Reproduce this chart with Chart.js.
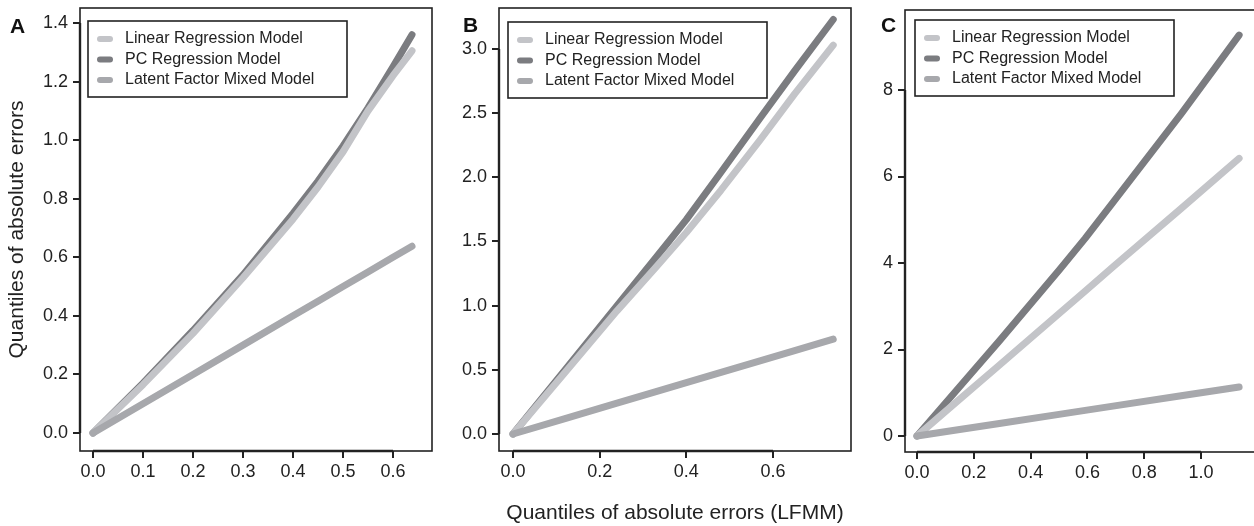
<!DOCTYPE html>
<html><head><meta charset="utf-8">
<script src="https://cdn.jsdelivr.net/npm/chart.js@4.4.1/dist/chart.umd.min.js"></script>
<style>
html,body{margin:0;padding:0;background:#fff;overflow:hidden;width:1254px;height:526px;}
canvas{position:absolute;top:0;}
</style></head><body>
<canvas id="cA" width="440" height="526" style="left:0px"></canvas>
<canvas id="cB" width="420" height="526" style="left:440px"></canvas>
<canvas id="cC" width="400" height="526" style="left:860px"></canvas>
<script>
// ---- data ----
const seriesNames = ['Linear Regression Model', 'PC Regression Model', 'Latent Factor Mixed Model'];

// Panel A
const qA   = [0, 0.1, 0.2, 0.3, 0.4, 0.45, 0.5, 0.55, 0.6, 0.638];
const linA = [0, 0.165, 0.34, 0.53, 0.73, 0.84, 0.96, 1.10, 1.22, 1.305];
const pcA  = [0, 0.17, 0.35, 0.54, 0.75, 0.86, 0.98, 1.11, 1.25, 1.36];
const lfA  = [0, 0.1, 0.2, 0.3, 0.4, 0.45, 0.5, 0.55, 0.6, 0.638];
const xTicksA = [0, 0.1, 0.2, 0.3, 0.4, 0.5, 0.6];
const yTicksA = [0, 0.2, 0.4, 0.6, 0.8, 1.0, 1.2, 1.4];

// Panel B
const qB   = [0, 0.12, 0.24, 0.33, 0.40, 0.48, 0.57, 0.65, 0.739];
const linB = [0, 0.48, 0.96, 1.30, 1.57, 1.90, 2.29, 2.65, 3.03];
const pcB  = [0, 0.50, 1.00, 1.375, 1.67, 2.04, 2.46, 2.83, 3.23];
const lfB  = [0, 0.12, 0.24, 0.33, 0.40, 0.48, 0.57, 0.65, 0.739];
const xTicksB = [0, 0.2, 0.4, 0.6];
const yTicksB = [0, 0.5, 1.0, 1.5, 2.0, 2.5, 3.0];

// Panel C
const qC   = [0, 0.15, 0.29, 0.5, 0.592, 0.69, 0.93, 1.134];
const linC = [0, 0.85, 1.64, 2.83, 3.35, 3.91, 5.26, 6.42];
const pcC  = [0, 1.14, 2.20, 3.83, 4.57, 5.40, 7.45, 9.27];
const lfC  = [0, 0.15, 0.29, 0.5, 0.592, 0.69, 0.93, 1.134];
const xTicksC = [0, 0.2, 0.4, 0.6, 0.8, 1.0];
const yTicksC = [0, 2, 4, 6, 8];

// ---- styling ----
const FONT = "'Liberation Sans', Arial, Helvetica, sans-serif";
Chart.defaults.font.family = FONT;
const colors = ['#c3c4c8', '#7b7c80', '#a7a8ac'];
const orders = [1, 2, 0];
const INK = '#222';

const framePlugin = {
  id: 'frame',
  afterDatasetsDraw(chart, args, opts) {
    const ctx = chart.ctx, a = chart.chartArea;
    const xs = chart.scales.x, ys = chart.scales.y;
    ctx.save();
    ctx.strokeStyle = INK;
    ctx.lineWidth = 1.6;
    ctx.strokeRect(a.left, a.top, a.right - a.left, a.bottom - a.top);
    ctx.lineWidth = 2.4;
    ctx.beginPath();
    ctx.moveTo(xs.getPixelForValue(opts.xt[0]), a.bottom);
    ctx.lineTo(xs.getPixelForValue(opts.xt[opts.xt.length - 1]), a.bottom);
    ctx.moveTo(a.left, ys.getPixelForValue(opts.yt[0]));
    ctx.lineTo(a.left, ys.getPixelForValue(opts.yt[opts.yt.length - 1]));
    ctx.stroke();
    // legend
    const lx = a.left + opts.lgx, ly = a.top + opts.lgy, lw = 259, lh = 76;
    ctx.fillStyle = '#fff';
    ctx.fillRect(lx, ly, lw, lh);
    ctx.lineWidth = 1.6;
    ctx.strokeStyle = INK;
    ctx.strokeRect(lx, ly, lw, lh);
    ctx.font = '16px ' + FONT;
    ctx.textBaseline = 'middle';
    ctx.textAlign = 'left';
    chart.data.datasets.forEach((d, i) => {
      const cy = ly + 18 + i * 20.5;
      ctx.strokeStyle = d.borderColor;
      ctx.lineWidth = 6;
      ctx.lineCap = 'round';
      ctx.beginPath();
      ctx.moveTo(lx + 12, cy);
      ctx.lineTo(lx + 22, cy);
      ctx.stroke();
      ctx.fillStyle = INK;
      ctx.fillText(d.label, lx + 37, cy);
    });
    // panel letter
    ctx.font = 'bold 21px ' + FONT;
    ctx.textBaseline = 'alphabetic';
    ctx.fillStyle = '#111';
    ctx.fillText(opts.letter, opts.letterX, opts.letterY);
    ctx.restore();
  }
};

function ds(xs, ys, i) {
  return {
    label: seriesNames[i],
    data: xs.map((x, k) => ({x: x, y: ys[k]})),
    borderColor: colors[i], backgroundColor: colors[i],
    borderWidth: 7, pointRadius: 0, pointHoverRadius: 0,
    showLine: true, tension: 0,
    borderCapStyle: 'round', borderJoinStyle: 'round',
    order: orders[i]
  };
}

function makeChart(id, p) {
  return new Chart(document.getElementById(id), {
    type: 'scatter',
    data: {datasets: [ds(p.q, p.lin, 0), ds(p.q, p.pc, 1), ds(p.q, p.lf, 2)]},
    plugins: [framePlugin],
    options: {
      responsive: false, animation: false,
      layout: {padding: {left: 0, right: p.padR, top: p.padT, bottom: 0}},
      plugins: {
        legend: {display: false}, tooltip: {enabled: false},
        frame: {xt: p.xt, yt: p.yt, letter: p.letter, letterX: p.letterX, letterY: p.letterY, lgx: p.lgx, lgy: p.lgy}
      },
      scales: {
        x: {
          type: 'linear', min: p.xmin, max: p.xmax,
          afterBuildTicks: s => { s.ticks = p.xt.map(v => ({value: v})); },
          afterFit: s => { s.height = p.hx; s.paddingLeft = 0; s.paddingRight = 0; },
          grid: {drawOnChartArea: false, tickLength: 7, lineWidth: 2, color: INK},
          border: {display: false},
          ticks: {padding: 3, color: INK, font: {size: 18}, maxRotation: 0, autoSkip: false,
                  callback: v => v.toFixed(p.xd)},
          title: p.xTitle ? {display: true, text: p.xTitle, color: INK, font: {size: 21}, padding: {top: 0, bottom: 0}} : {display: false}
        },
        y: {
          type: 'linear', min: p.ymin, max: p.ymax,
          afterBuildTicks: s => { s.ticks = p.yt.map(v => ({value: v})); },
          afterFit: s => { s.width = p.wy; s.paddingTop = 0; s.paddingBottom = 0; },
          grid: {drawOnChartArea: false, tickLength: 7, lineWidth: 2, color: INK},
          border: {display: false},
          ticks: {padding: 5, color: INK, font: {size: 18}, autoSkip: false,
                  callback: v => v.toFixed(p.yd)},
          title: p.yTitle ? {display: true, text: p.yTitle, color: INK, font: {size: 21}, padding: {top: 5, bottom: 0}} : {display: false}
        }
      }
    }
  });
}

makeChart('cA', {
  q: qA, lin: linA, pc: pcA, lf: lfA, xt: xTicksA, yt: yTicksA, xd: 1, yd: 1,
  xmin: -0.026, xmax: 0.678, ymin: -0.0615, ymax: 1.4512,
  padR: 8, padT: 8, hx: 75, wy: 80,
  yTitle: 'Quantiles of absolute errors',
  letter: 'A', letterX: 10, letterY: 33, lgx: 8, lgy: 13
});
makeChart('cB', {
  q: qB, lin: linB, pc: pcB, lf: lfB, xt: xTicksB, yt: yTicksB, xd: 1, yd: 1,
  xmin: -0.0323, xmax: 0.780, ymin: -0.1325, ymax: 3.3195,
  padR: 9, padT: 8, hx: 75, wy: 59,
  xTitle: 'Quantiles of absolute errors (LFMM)',
  letter: 'B', letterX: 23, letterY: 32, lgx: 9, lgy: 14
});
makeChart('cC', {
  q: qC, lin: linC, pc: pcC, lf: lfC, xt: xTicksC, yt: yTicksC, xd: 1, yd: 0,
  xmin: -0.0423, xmax: 1.197, ymin: -0.37, ymax: 9.85,
  padR: 3, padT: 10, hx: 74, wy: 45,
  letter: 'C', letterX: 21, letterY: 32, lgx: 10, lgy: 10
});
</script>
</body></html>
